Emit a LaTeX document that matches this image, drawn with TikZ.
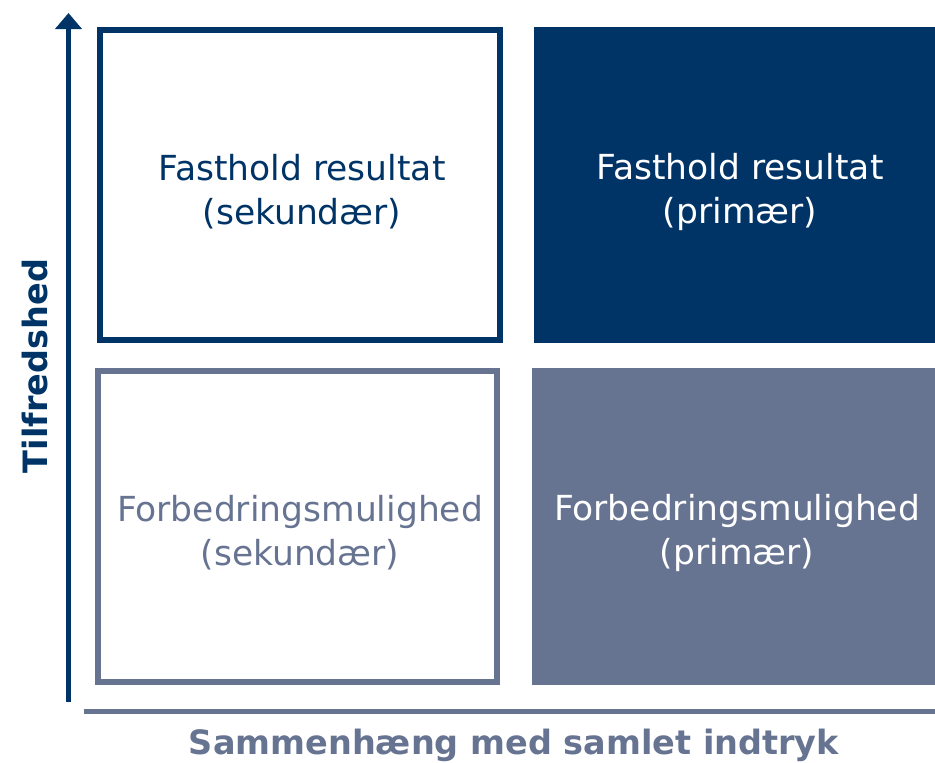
\documentclass[tikz,border=0pt]{standalone}
\usepackage{fontspec}
\setmainfont{DejaVu Sans}
\usetikzlibrary{arrows.meta}
\definecolor{navy}{HTML}{003366}
\definecolor{slate}{HTML}{667391}
\begin{document}
\begin{tikzpicture}[x=1pt,y=-1pt,
  frame/.style={draw,line width=6pt,inner sep=0pt,outer sep=0pt},
  solid box/.style={inner sep=0pt,outer sep=0pt},
  label text/.style={align=center,font=\fontsize{34.5}{44}\selectfont},
  axis text/.style={font=\fontsize{33.5}{38}\selectfont\bfseries}]
\useasboundingbox (0,0) rectangle (935,763);
% boxes
\node[frame,draw=navy,minimum width=400pt,minimum height=310pt] (tl) at (300,185) {};
\node[solid box,fill=navy,minimum width=401pt,minimum height=316pt] (tr) at (734.5,185) {};
\node[frame,draw=slate,minimum width=399pt,minimum height=311pt] (bl) at (297.5,526.5) {};
\node[solid box,fill=slate,minimum width=403pt,minimum height=317pt] (br) at (733.5,526.5) {};
% texts
\node[label text,text=navy] (tlt) at (302,192) {Fasthold resultat\\(sekundær)};
\node[label text,text=white] (trt) at (740,192) {Fasthold resultat\\(primær)};
\node[label text,text=slate] (blt) at (300,533) {Forbedringsmulighed\\(sekundær)};
\node[label text,text=white] (brt) at (737,533) {Forbedringsmulighed\\(primær)};
% axes
\coordinate (ybot) at (68.5,702);
\coordinate (ytop) at (68.5,13);
\draw[navy,line width=5pt,-{Triangle[width=26pt,length=16pt]}] (ybot) -- (ytop);
\coordinate (xl) at (84,711);
\coordinate (xr) at (935,711);
\draw[slate,line width=5pt] (xl) -- (xr);
\node[axis text,text=navy,rotate=90] (ylab) at (35,366) {Tilfredshed};
\node[axis text,text=slate] (xlab) at (514,745) {Sammenhæng med samlet indtryk};
\end{tikzpicture}
\end{document}
